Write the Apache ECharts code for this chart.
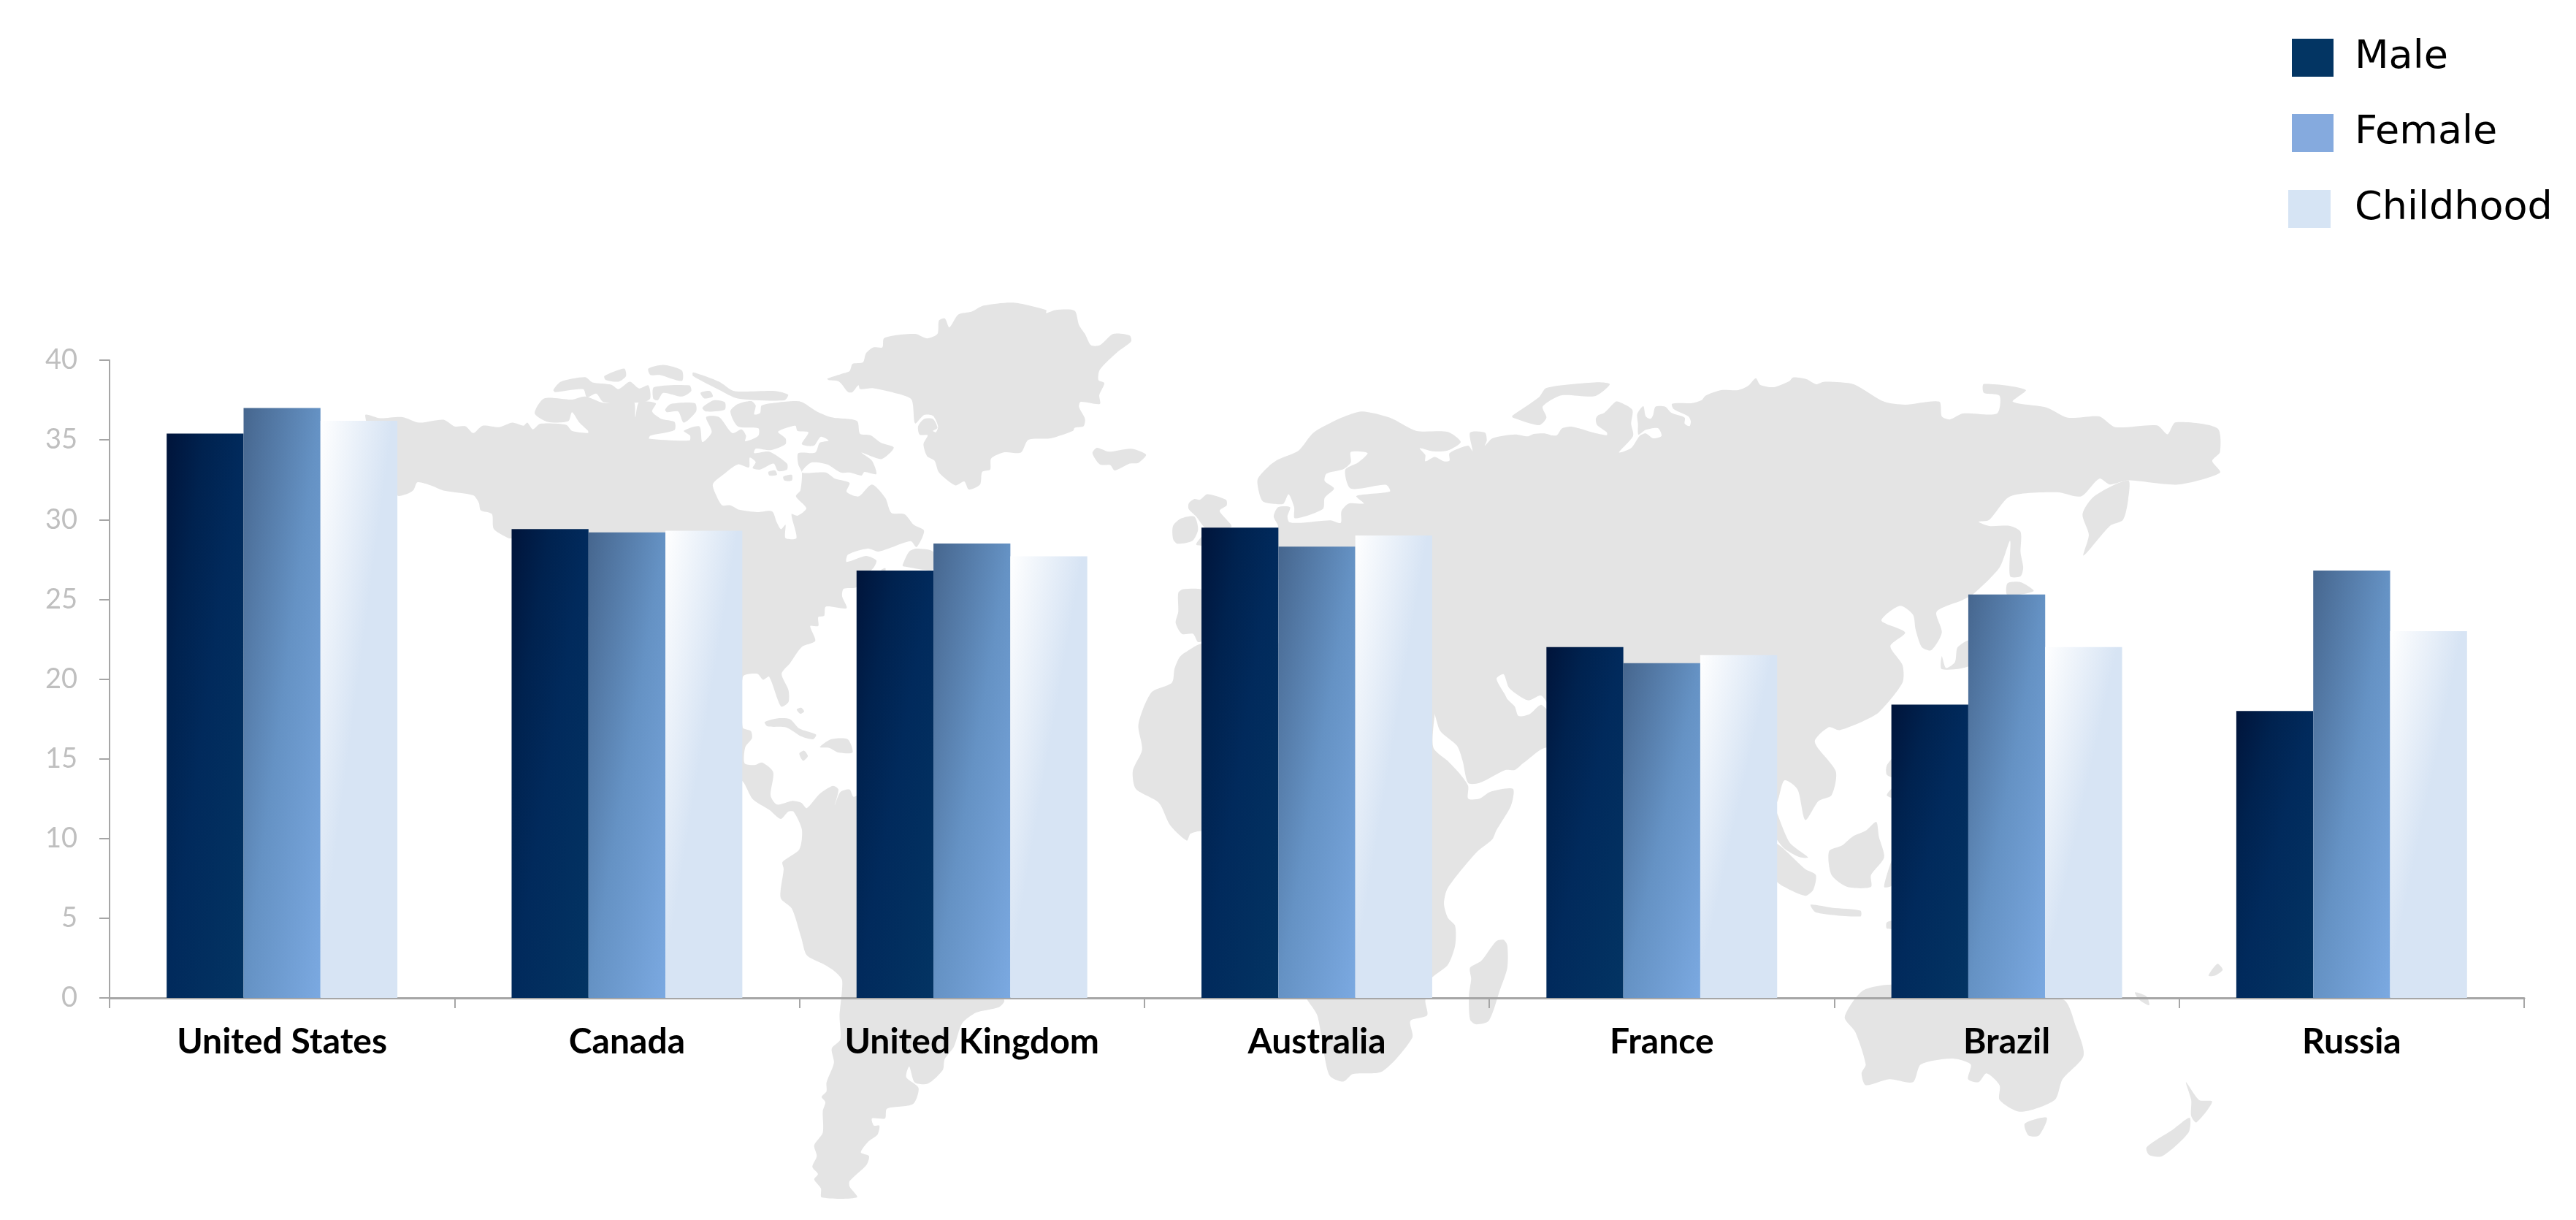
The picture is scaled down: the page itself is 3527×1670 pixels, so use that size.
<!DOCTYPE html>
<html>
<head>
<meta charset="utf-8">
<style>html,body{margin:0;padding:0;background:#fff}#c{width:3527px;height:1670px}</style>
<script src="https://cdn.jsdelivr.net/npm/echarts@6/dist/echarts.min.js"></script>
</head>
<body>
<div id="c"></div>
<script>
const categories = ['United States','Canada','United Kingdom','Australia','France','Brazil','Russia'];
const maleValues = [35.4,29.4,26.8,29.5,22,18.4,18];
const femaleValues = [37,29.2,28.5,28.3,21,25.3,26.8];
const childhoodValues = [36.2,29.3,27.7,29,21.5,22,23];
const seriesNames = ['Male','Female','Childhood'];

// --- decorative world map backdrop, traced in crop-local coordinates ---
const C3=[2400,400,.7187,.81],C4=[500,400,.5102,.5102],C5=[1000,900,.5102,.491],C6=[1500,480,.5102,.5102],
      C7=[1500,900,.5102,.3827],C8=[1000,400,.408,.408],C9=[2100,480,.3333,.3333];
function P(c,a){const o=[];for(let i=0;i<a.length;i+=2)o.push([c[0]+a[i]*c[2],c[1]+a[i+1]*c[3]]);return o;}

const americas=[].concat(
 P(C4,[0,330,40,338,100,335,145,350,210,342,240,360,270,360,290,378,315,358,360,362,395,350,425,358,435,350,450,368,470,353,540,356,555,372,598,378,598,372,575,350,555,322,545,346,490,348,455,325,480,285,555,288,590,280,640,297,720,293,725,335,735,295,780,298,770,320,795,340,830,348,830,370,765,385,762,393,870,398,872,385,855,372,897,360,905,402,930,375,915,335,950,335,985,378,1010,368,1022,385,1020,400,1055,385,1055,365,1000,360,980,320]),
 P(C8,[25,375,70,365,85,380,80,410,100,405,105,380,160,370,235,367,290,400,340,420,425,432,435,475,470,480,505,505,548,520,535,540,505,560,440,538,475,565,490,610,450,603,440,615,400,605,370,605,325,578,270,572,240,605,320,605,350,625,400,640,390,670,430,685,475,645,520,690,540,740,585,745,615,780,650,800,625,855,605,835,530,860,495,870,460,860,395,880,390,905,455,885,490,900,480,925,440,960,423,990,380,995,375,1020,390,1060,320,1055,315,1085,295,1090,295,1120,268,1120,285,1170,240,1190,200,1245,172,1280,195,1335,195,1375,170,1390,130,1290,110,1300,90,1280,42,1290]),
 P(C5,[33,195,55,205,58,225,40,250,38,295,65,300,85,293,115,320,108,385,125,410,165,400,190,405,205,420,240,380,275,358,290,368,280,412,295,375,320,368,330,388,345,385,600,700,735,955,720,975,660,990,622,1020,600,1085,575,1120,570,1150,530,1188,495,1185,480,1140,472,1170,505,1200,490,1245,420,1258,415,1285,380,1285,385,1305,400,1305,395,1330,370,1350,350,1380,372,1390,365,1415,320,1460,320,1475,340,1505,245,1505,243,1480,225,1455,235,1440,220,1420,232,1390,225,1360,248,1325,248,1265,255,1240,245,1225,258,1210,258,1185,278,1130,272,1090,295,1065,293,1000,300,900,280,875,250,855,205,830,190,780,165,700,135,670,143,590,140,570,185,535,192,480,170,430,155,430,135,450,105,425,60,395,33,345]),
 P(C4,[400,662,385,660,345,635,340,595,310,585,305,565,290,545,210,532,175,518,140,510,130,530,115,540,86,545,40,450])
);
const hudson=[].concat(
 P(C8,[240,605,235,665,220,685,255,725,225,750,205,745,222,825,185,825,185,780,170,795,155,770,140,735,90,738,30,730,0,715]),
 P(C4,[958,572,942,545,933,515,960,490,1000,462,1030,470]),
 P(C8,[65,555,85,570,75,590,100,595,145,575,160,600,190,595,190,575,130,535,80,540,85,525,135,530,185,510,185,490,160,468,218,448,225,465,262,470,240,510,280,515,303,485,330,498,300,505,285,538,228,540,228,578])
);
const greenland=P(C8,[325,290,370,275,400,265,410,240,445,235,455,205,480,185,510,185,515,155,550,145,620,140,660,155,695,140,700,95,720,88,735,118,765,75,810,65,850,45,950,35,1060,60,1060,70,1090,60,1155,62,1170,110,1190,140,1210,178,1240,178,1285,140,1340,145,1345,165,1300,200,1240,260,1235,295,1255,305,1238,345,1240,375,1175,368,1170,385,1190,425,1185,450,1155,455,1150,465,1075,490,1000,495,975,538,920,537,875,558,872,595,845,603,838,645,800,662,785,635,755,648,700,605,685,565,660,550,648,510,662,480,635,478,630,450,650,425,680,425,695,455,680,465,690,470,697,450,680,415,650,412,620,440,608,360,560,340,480,322,435,325,430,312,410,335,395,335,365,300,330,295]);
const africa=[].concat(
 P(C6,[290,785,240,810]),
 P(C7,[225,0,212,40,205,90,150,125,115,240,125,330,100,405,108,470,170,520,200,600,245,655,255,630,290,625,570,1228,595,1280,610,1390,628,1495,665,1517,690,1490,770,1480,850,1360,845,1300,890,1280,885,1228,900,1150,945,1100,965,1030,965,960,945,930,935,880,945,825,1020,700,1065,650,1075,620,1115,530,1120,470,1060,480,1030,505,1000,505,1000,460,980,420,945,370,906,320,900,0])
);
const eurasia=[].concat(
 P(C6,[435,345,465,310,490,292,545,268,585,220,660,180,715,163,790,180,860,215,945,218,980,245,945,268,905,270,870,262,885,280,885,297,910,285,935,297,950,295,950,275,1000,255,1012,270,1005,220,1045,220,1050,240,1045,255,1065,235,1125,225,1160,230]),
 P(C9,[0,342,45,340,70,347,95,347,115,320,150,312,190,320,240,335,300,347,300,335,260,305,255,280,265,265,290,255,335,210,350,210,405,243,400,300,408,350,350,418,400,400,435,350,460,340,490,360,525,350,510,318,460,325,430,345,428,300,425,260,450,228,460,270,480,280,490,265,500,230,540,230,565,255,620,275,620,300,640,310,645,290,635,270,575,240,568,218,650,215,690,203,705,185,770,162,840,162,880,145,912,113,930,140,985,150,1050,125,1065,110,1120,117,1160,138,1190,128,1260,130,1320,140]),
 P(C3,[250,185,290,190,355,185,360,210,375,215,400,205,465,205,470,175,440,170,440,155,520,165,495,185,560,195,600,212,660,210,690,228,770,225,790,240,805,220,885,230,890,270,875,285,890,305,810,325,715,318,680,325,660,315,625,345,580,338,490,345,450,385,430,388,450,395,490,395,510,405,510,440,515,465,510,480,490,480,490,420,470,465,420,510,400,520,350,540,360,575,340,605,322,600,310,570,305,545,280,530,245,555,290,575,262,598,285,630,285,660,240,710,210,725,165,740,145,735,118,760,158,810,150,850,125,860,100,892,85,840,60,825,47,860,20,900]),
 P(C6,[1215,1065,1150,1105,1125,1125,1100,1125,1030,1160,1000,1160,985,1100,970,1060,925,1020,900,955,700,800,480,600,490,472,478,445,490,420,522,420,515,445,520,460,550,462,630,455,658,462,660,430,680,410,720,410,700,390,790,378,780,360,685,370,670,320,705,300,730,275,685,272,685,300,665,318,620,330,615,350,640,370,615,395,610,425,535,450,533,420,518,385,505,410,490,412,450,405,440,385])
);
const gulf=P(C6,[1076,880,1095,868,1110,905,1160,938,1195,925,1215,950,1215,965,1195,950,1165,975,1135,980,1125,955,1105,935,1100,925]);
const landPieces=[
 americas,greenland,africa,eurasia,
 P(C4,[505,262,525,240,590,228,610,242,660,248,680,260,710,240,735,258,760,250,765,285,745,295,640,295,620,272,595,282,585,260,510,268]),
 P(C4,[760,205,800,195,850,210,850,238,790,222,765,222]),
 P(C4,[642,225,695,205,700,225,680,240,645,235]),
 P(C4,[775,255,870,250,875,265,850,280,800,270,785,290,773,285]),
 P(C4,[805,315,820,300,885,298,888,320,855,350,840,320,810,322]),
 P(C4,[900,270,925,265,933,280,910,285]),
 P(C4,[905,310,935,290,965,295,965,315,915,320]),
 P(C4,[880,215,950,240,990,265,1100,265,1135,275,1125,290,1000,285,950,262,880,225]),
 P(C8,[1215,540,1230,522,1270,535,1345,525,1395,545,1370,572,1340,575,1290,598,1275,580,1240,578]),
 P(C8,[578,915,600,870,625,860,680,870,680,930,580,920]),
 P(C8,[505,932,520,925,520,935]),
 P(C5,[92,180,125,170,160,172,185,198,230,215,222,228,190,220,150,195,100,192]),
 P(C5,[240,250,270,228,315,228,328,265,290,265,265,252]),
 P(C5,[185,268,198,260,208,275,195,288]),
 P(C5,[178,145,190,140,198,150,188,157]),
 P(C6,[250,410,265,398,280,400,300,385,350,400,352,415,333,430,365,472,300,480,270,445,250,425]),
 P(C6,[208,470,230,450,265,445,275,480,260,510,220,518,208,505]),
 P(C6,[270,520,290,495,290,522]),
 P(C6,[222,650,235,640,290,645,290,775,275,782,262,760,232,760,215,730,222,700]),
 P(C6,[1118,175,1190,125,1210,100,1345,85,1380,90,1340,122,1250,120,1200,150,1210,180,1190,200,1120,180]),
 P(C7,[1005,1110,1035,1085,1075,1015,1095,1010,1105,1030,1105,1110,1085,1190,1055,1300,1020,1312,1005,1295,1002,1210,1008,1150]),
 P(C3,[630,445,640,410,628,375,650,345,715,318,715,350,705,385,680,395]),
 P(C3,[485,492,510,490,535,505,485,512]),
 P(C3,[360,615,368,635,385,625,390,600,415,588,415,630,360,637]),
 P(C3,[145,945,170,935,190,920,215,910,235,895,240,920,250,955,225,985,225,1005,180,1005,150,985]),
 P(C3,[40,930,100,975,120,985,115,1010,100,1020,60,1005,40,990]),
 P(C3,[40,870,70,930,105,955,90,955,60,940,40,915]),
 P(C3,[110,1035,150,1040,205,1045,205,1055,120,1048]),
 P(C3,[250,1005,270,950,270,1000]),
 P(C3,[255,1065,270,1062,270,1075,255,1075]),
 P(C3,[255,800,270,785,270,820,255,815]),
 P(C3,[255,850,270,835,270,855]),
 P(C3,[175,1225,210,1180,270,1170,590,1195,615,1240,630,1290,590,1330,575,1365,510,1385,470,1365,470,1340,445,1320,430,1335,410,1330,415,1305,380,1295,320,1305,305,1335,260,1330,215,1340,207,1320,215,1305,195,1250]),
 P(C3,[518,1405,560,1395,545,1425,525,1425]),
 P(C3,[750,1445,800,1415,832,1395,830,1420,780,1460,755,1458]),
 P(C3,[825,1335,850,1365,875,1368,845,1403,835,1392,835,1365]),
 P(C3,[728,1183,750,1190,755,1205,735,1195]),
 P(C3,[868,1155,885,1135,895,1145,880,1155])
];
const holes=[hudson,gulf];
const smallIslands=[P(C4,[1082,482,1100,478,1105,490,1085,492]),P(C4,[1122,495,1145,490,1145,505,1125,505])];
const poly=(pts,fill)=>({type:'polygon',silent:true,z:0,shape:{points:pts,smooth:0.25},style:{fill:fill}});
const mapGraphics=[].concat(landPieces.map(p=>poly(p,'#e4e4e4')),holes.map(p=>poly(p,'#ffffff')),smallIslands.map(p=>poly(p,'#e4e4e4')));

// --- bar gradients: lines of equal colour follow the bar's anti-diagonal ---
const plotHeight=873, yMax=40, barW=105.3;
function grad(v,stops){
  const h=v/yMax*plotHeight, d=h*h+barW*barW;
  return {type:'linear',x:0,y:0,x2:2*h*h/d,y2:2*barW*barW/d,global:false,
    colorStops:stops.map(s=>({offset:s[0],color:s[1]}))};
}
const maleStops=[[0,'#00143a'],[.25,'#00224f'],[.5,'#012a5c'],[1,'#033463']];
const femaleStops=[[0,'#46668e'],[.5,'#6592c4'],[1,'#7ba9e1']];
const childStops=[[0,'#ffffff'],[.47,'#d7e4f4'],[1,'#d7e4f4']];
const legendColors=['#033563','#85aade','#d6e4f4'];
const legendFont={fontFamily:'"DejaVu Sans"',fontSize:54,color:'#000'};

const makeSeries=(name,vals,stops)=>({name:name,type:'bar',barWidth:barW,barGap:0,z:2,
  data:vals.map(v=>({value:v,itemStyle:{color:grad(v,stops)}}))});
const makeLegend=(i,left,top,w)=>({left:left-5,top:top-5,itemWidth:w,itemHeight:52,icon:'rect',
  data:[{name:seriesNames[i],itemStyle:{color:legendColors[i]}}],
  textStyle:Object.assign({},legendFont,{padding:[19,0,0,3224-left-w-5]})});

const chart=echarts.init(document.getElementById('c'),null,{renderer:'canvas'});
chart.setOption({
  animation:false,
  backgroundColor:'#fff',
  graphic:{elements:mapGraphics},
  legend:[makeLegend(0,3138,52,57),makeLegend(1,3138,155,57),makeLegend(2,3133,259,58)],
  grid:{left:150,right:71,top:493,bottom:304,containLabel:false},
  xAxis:{type:'category',data:categories,
    axisLine:{lineStyle:{color:'#a6a6a6',width:3}},
    axisTick:{show:true,alignWithLabel:false,length:14,lineStyle:{color:'#a6a6a6',width:2}},
    axisLabel:{interval:0,margin:37,color:'#000',fontFamily:'Lato',fontWeight:'bold',fontSize:48},
    splitLine:{show:false}},
  yAxis:{type:'value',min:0,max:yMax,interval:5,
    axisLine:{show:true,lineStyle:{color:'#a6a6a6',width:2}},
    axisTick:{show:true,length:14,lineStyle:{color:'#a6a6a6',width:2}},
    axisLabel:{margin:44,color:'#bfbfbf',fontFamily:'Lato',fontSize:38},
    splitLine:{show:false}},
  series:[makeSeries(seriesNames[0],maleValues,maleStops),makeSeries(seriesNames[1],femaleValues,femaleStops),makeSeries(seriesNames[2],childhoodValues,childStops)]
});
</script>
</body>
</html>
